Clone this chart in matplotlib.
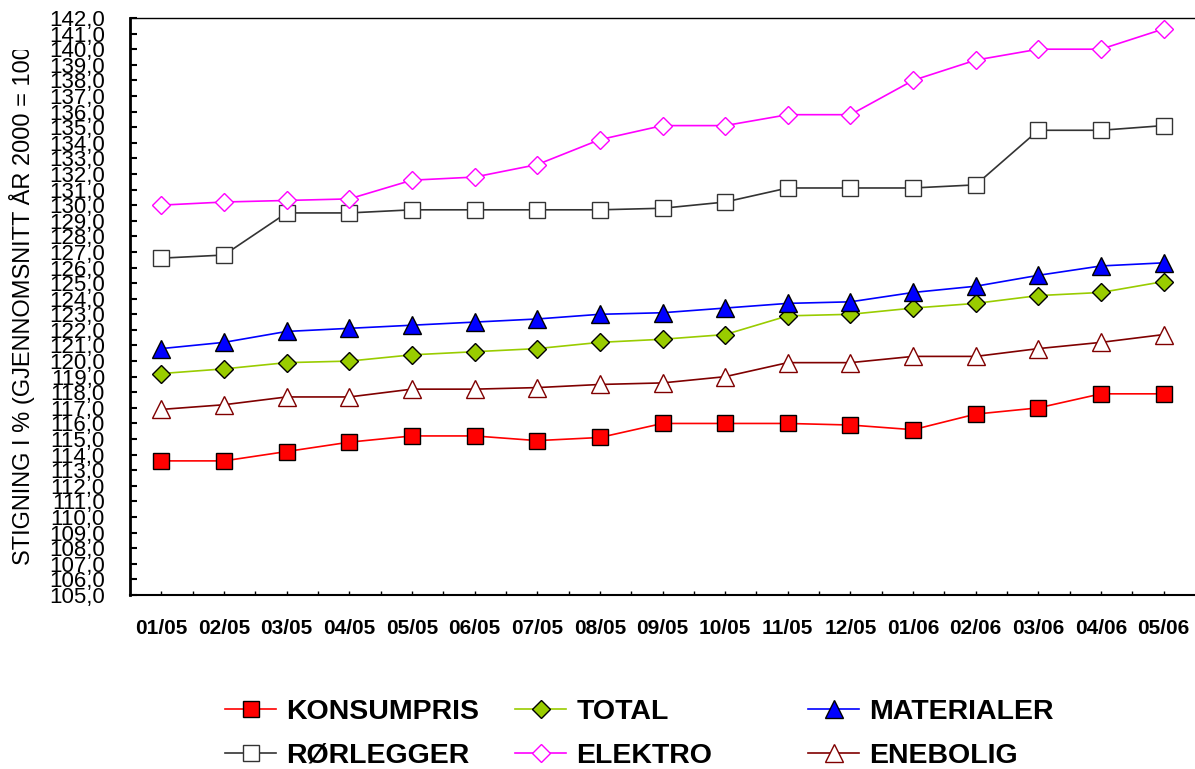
import matplotlib
matplotlib.use("Agg")
import matplotlib.pyplot as plt
from matplotlib.ticker import MultipleLocator, FixedLocator, FuncFormatter
from matplotlib.transforms import Bbox, TransformedBbox

plt.rcParams['font.family'] = ['Liberation Sans', 'DejaVu Sans']

months = ['01/05', '02/05', '03/05', '04/05', '05/05', '06/05', '07/05', '08/05', '09/05',
          '10/05', '11/05', '12/05', '01/06', '02/06', '03/06', '04/06', '05/06']

konsumpris = [113.6, 113.6, 114.2, 114.8, 115.2, 115.2, 114.9, 115.1, 116.0,
              116.0, 116.0, 115.9, 115.6, 116.6, 117.0, 117.9, 117.9]
total = [119.2, 119.5, 119.9, 120.0, 120.4, 120.6, 120.8, 121.2, 121.4,
         121.7, 122.9, 123.0, 123.4, 123.7, 124.2, 124.4, 125.1]
materialer = [120.8, 121.2, 121.9, 122.1, 122.3, 122.5, 122.7, 123.0, 123.1,
              123.4, 123.7, 123.8, 124.4, 124.8, 125.5, 126.1, 126.3]
rorlegger = [126.6, 126.8, 129.5, 129.5, 129.7, 129.7, 129.7, 129.7, 129.8,
             130.2, 131.1, 131.1, 131.1, 131.3, 134.8, 134.8, 135.1]
elektro = [130.0, 130.2, 130.3, 130.4, 131.6, 131.8, 132.6, 134.2, 135.1,
           135.1, 135.8, 135.8, 138.0, 139.3, 140.0, 140.0, 141.3]
enebolig = [116.9, 117.2, 117.7, 117.7, 118.2, 118.2, 118.3, 118.5, 118.6,
            119.0, 119.9, 119.9, 120.3, 120.3, 120.8, 121.2, 121.7]

fig = plt.figure(figsize=(11.95, 7.69), dpi=100)
ax = fig.add_axes([130 / 1195, 1 - 595 / 769, 1065 / 1195, 577 / 769])

x = list(range(len(months)))
lw = 1.2

l1, = ax.plot(x, konsumpris, color='#FF0000', lw=lw, marker='s', ms=11.5,
              mfc='#FF0000', mec='black', mew=1.0, label='KONSUMPRIS')
l2, = ax.plot(x, total, color='#99CC00', lw=lw, marker='D', ms=9,
              mfc='#99CC00', mec='black', mew=1.0, label='TOTAL')
l3, = ax.plot(x, materialer, color='#0000FF', lw=lw, marker='^', ms=12.5,
              mfc='#0000FF', mec='black', mew=1.0, label='MATERIALER')
l4, = ax.plot(x, rorlegger, color='#333333', lw=lw, marker='s', ms=11.5,
              mfc='white', mec='#333333', mew=1.0, label='RØRLEGGER')
l5, = ax.plot(x, elektro, color='#FF00FF', lw=lw, marker='D', ms=9,
              mfc='white', mec='#FF00FF', mew=1.0, label='ELEKTRO')
l6, = ax.plot(x, enebolig, color='#800000', lw=lw, marker='^', ms=12.5,
              mfc='white', mec='#800000', mew=1.0, label='ENEBOLIG')

ax.set_xlim(-0.5, len(months) - 0.5)
ax.set_ylim(105, 142)

ax.yaxis.set_major_locator(MultipleLocator(1))
ax.yaxis.set_major_formatter(FuncFormatter(lambda v, p: f"{v:.1f}".replace('.', ',')))
ax.tick_params(axis='y', direction='in', length=5, width=1.5, labelsize=16, pad=18)

ax.xaxis.set_major_locator(FixedLocator(x))
ax.set_xticklabels(months, fontsize=15, fontweight='bold')
ax.xaxis.set_minor_locator(FixedLocator([i + 0.5 for i in x[:-1]]))
ax.tick_params(axis='x', which='both', direction='in', length=3, width=1, pad=17)

ax.spines['right'].set_visible(False)
ax.spines['left'].set_linewidth(2)
ax.spines['bottom'].set_linewidth(1.5)
ax.spines['top'].set_linewidth(1)

# y title runs past its text box and gets cut off at the top
ytitle = fig.text(22 / 1195, 1 - 565 / 769, 'STIGNING I % (GJENNOMSNITT ÅR 2000 = 100)',
                  rotation=90, ha='center', va='bottom', fontsize=17)
ytitle.set_clip_box(TransformedBbox(Bbox.from_extents(0, 0, 0.1, 1 - 50 / 769),
                                    fig.transFigure))
ytitle.set_clip_on(True)

# legend in three columns, two rows each
cols = [(l1, l4), (l2, l5), (l3, l6)]
col_x = [225 / 1195, 515 / 1195, 808 / 1195]
for hs, cx in zip(cols, col_x):
    leg = fig.legend(handles=list(hs), loc='center left', bbox_to_anchor=(cx, 1 - 734 / 769),
                     frameon=False, borderpad=0, borderaxespad=0, handlelength=1.8,
                     handletextpad=0.35, labelspacing=0.62,
                     prop={'size': 20.5, 'weight': 'bold'})

fig.savefig('out.png', dpi=100)
